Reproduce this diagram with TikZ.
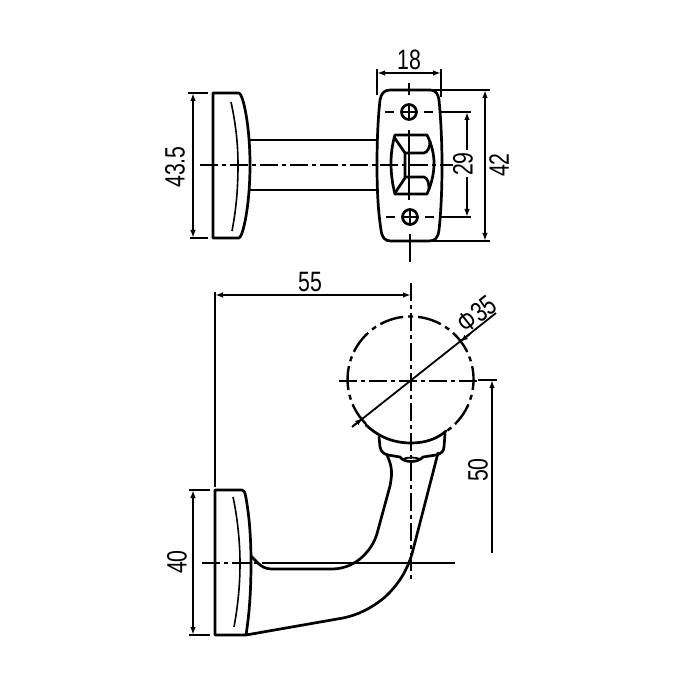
\documentclass[tikz,border=0pt]{standalone}
\usepackage{fontspec}
\setmainfont{Liberation Sans}
\usetikzlibrary{arrows.meta}
\tikzset{
 outline/.style={line width=2.7pt,line cap=round,line join=round},
 thinline/.style={line width=1.6pt},
 dimline/.style={line width=1.8pt},
 tipboth/.style={{Latex[length=8pt,width=5.5pt]}-{Latex[length=8pt,width=5.5pt]}},
 tipend/.style={-{Latex[length=8pt,width=5.5pt]}},
 tipstart/.style={{Latex[length=8pt,width=5.5pt]}-},
 centerline/.style={line width=1.8pt,dash pattern=on 18pt off 4pt on 4pt off 4pt},
 dimtext/.style={inner sep=0pt,font=\fontsize{28}{28}\selectfont,xscale=.76},
}
\begin{document}
\begin{tikzpicture}[x=1pt,y=-1pt]
\useasboundingbox (0,0) rectangle (700,700);
% ---- top view: flange
\draw[outline] (239,93) -- (213,93) -- (213,238) -- (239,238)
  .. controls (243,237) and (250,205) .. (250,165)
  .. controls (250,125) and (243,94) .. (239,93);
\draw[thinline] (231,102) .. controls (236,125) and (238,145) .. (238,165)
  .. controls (238,190) and (236,210) .. (232,231);
\draw[outline] (250,140) -- (377,140);
\draw[outline] (250,190) -- (377,190);
\draw[centerline] (200,165) -- (453,165);
% top view: plate
\draw[outline] (390,90) -- (430,90) .. controls (436,90) and (438,94) .. (439,100)
  .. controls (441,120) and (442,145) .. (442,165)
  .. controls (442,190) and (441,212) .. (439,230)
  .. controls (438,238) and (435,241) .. (429,241) -- (391,241)
  .. controls (385,241) and (382,238) .. (381,230)
  .. controls (378,210) and (377,190) .. (377,165)
  .. controls (377,140) and (378,118) .. (380,100)
  .. controls (381,94) and (384,90) .. (390,90) -- cycle;
% holes
\draw[outline] (409,112) circle (7.5);
\draw[outline] (410,217) circle (7.5);
\draw[line width=1.8pt] (402,112) -- (416,112) (409,105) -- (409,119);
\draw[line width=1.8pt] (403,217) -- (417,217) (410,210) -- (410,224);
\draw[line width=1.8pt] (385,112) -- (394,112) (424,112) -- (433,112);
\draw[line width=1.8pt] (386,217) -- (395,217) (425,217) -- (434,217);
\draw[line width=1.8pt] (409,83) -- (409,95) (409,130) -- (409,200);
\draw[line width=1.8pt] (410,234) -- (410,262);
% square socket
\draw[outline] (395,135) -- (427,135) .. controls (432,145) and (434,155) .. (434,163)
  .. controls (434,175) and (431,185) .. (427,194) -- (395,194)
  .. controls (392,183) and (391,172) .. (391,163)
  .. controls (391,155) and (392,145) .. (395,135) -- cycle;
\draw[outline] (394,137) -- (405,153) -- (405,178) -- (395,193);
\draw[outline] (405,153) -- (424,153) .. controls (428,152) and (430,147) .. (430,141);
\draw[outline] (405,177) -- (424,177) .. controls (428,178) and (429,184) .. (429,189);
% dims top
\draw[thinline] (377,69) -- (377,95) (441,69) -- (441,97);
\draw[dimline,tipboth] (377,73) -- (441,73);
\node[dimtext] (t18) at (409,60) {18};
\draw[thinline] (432,90) -- (490,90) (431,241) -- (490,241);
\draw[dimline,tipboth] (485,90) -- (485,241);
\node[rotate=90,dimtext] (t42) at (499,165) {42};
\draw[thinline] (441,112) -- (471,112) (441,217) -- (471,217);
\draw[dimline,tipstart] (467,112) -- (467,150);
\draw[dimline,tipend] (467,177) -- (467,217);
\node[rotate=90,dimtext] (t29) at (463,164) {29};
\draw[thinline] (188,93) -- (208,93) (190,238) -- (208,238);
\draw[dimline,tipboth] (193,93) -- (193,238);
\node[rotate=90,dimtext] (t435) at (175,167) {43.5};
% ---- lower view: flange
\draw[outline] (242,490) -- (215,490) -- (215,635) -- (246,635)
  .. controls (250,610) and (251,585) .. (251,563)
  .. controls (251,535) and (249,515) .. (246,498)
  .. controls (245,492) and (244,490) .. (242,490);
\draw[thinline] (233,497) .. controls (238,520) and (240,545) .. (240,563)
  .. controls (240,585) and (238,605) .. (234,627);
% arm
\draw[outline] (251,556) .. controls (258,563) and (262,569) .. (272,569) -- (332,569)
  .. controls (345,569) and (358,563) .. (367,552)
  .. controls (373,545) and (376,538) .. (378,530)
  -- (390,486) .. controls (392,475) and (393,468) .. (387,455);
\draw[outline] (438,453) -- (413,550) .. controls (408,570) and (398,585) .. (385,597)
  .. controls (372,608) and (358,615) .. (343,618) -- (246,635);
% ball
\draw[line width=2.4pt,dash pattern=on 24pt off 5pt on 5pt off 5pt]
  (366,424) arc (135:415:63);
\draw[outline] (366,425) .. controls (380,438) and (395,443) .. (411,443)
  .. controls (425,443) and (437,439) .. (446,431);
% collar
\draw[outline] (379,437) -- (380,447) .. controls (381,452) and (384,454) .. (388,455)
  -- (400,457) .. controls (404,463) and (418,463) .. (423,457)
  -- (436,455) .. controls (441,454) and (444,451) .. (444,447) -- (445,434);
\draw[line width=1.8pt] (403,459) .. controls (408,457) and (415,457) .. (420,459);
% center lines
\draw[centerline] (411,283) -- (411,582);
\draw[centerline] (339,381) -- (478,381);
\draw[centerline] (202,563) -- (278,563);
\draw[dimline] (278,563) -- (455,563);
% lower dims
\draw[thinline] (215,292) -- (215,487);
\draw[dimline,tipboth] (215,295) -- (411,295);
\node[dimtext] (t55) at (310,282) {55};
\draw[thinline] (189,490) -- (210,490) (189,635) -- (210,635);
\draw[dimline,tipboth] (193,490) -- (193,635);
\node[rotate=90,dimtext] (t40) at (177,562) {40};
\draw[thinline] (478,380) -- (497,380);
\draw[dimline,tipstart] (492,380) -- (492,553);
\node[rotate=90,dimtext] (t50) at (478,470) {50};
\coordinate (lA) at (352,427);
\coordinate (lB) at (496,313);
\draw[dimline] (lA) -- (lB);
\draw[dimline,tipstart] (460,342) -- (470,334);
\draw[dimline,tipend] (353,426) -- (363,418);
\node[rotate=38,dimtext] (tphi) at (477,314) {Φ35};
\end{tikzpicture}
\end{document}
